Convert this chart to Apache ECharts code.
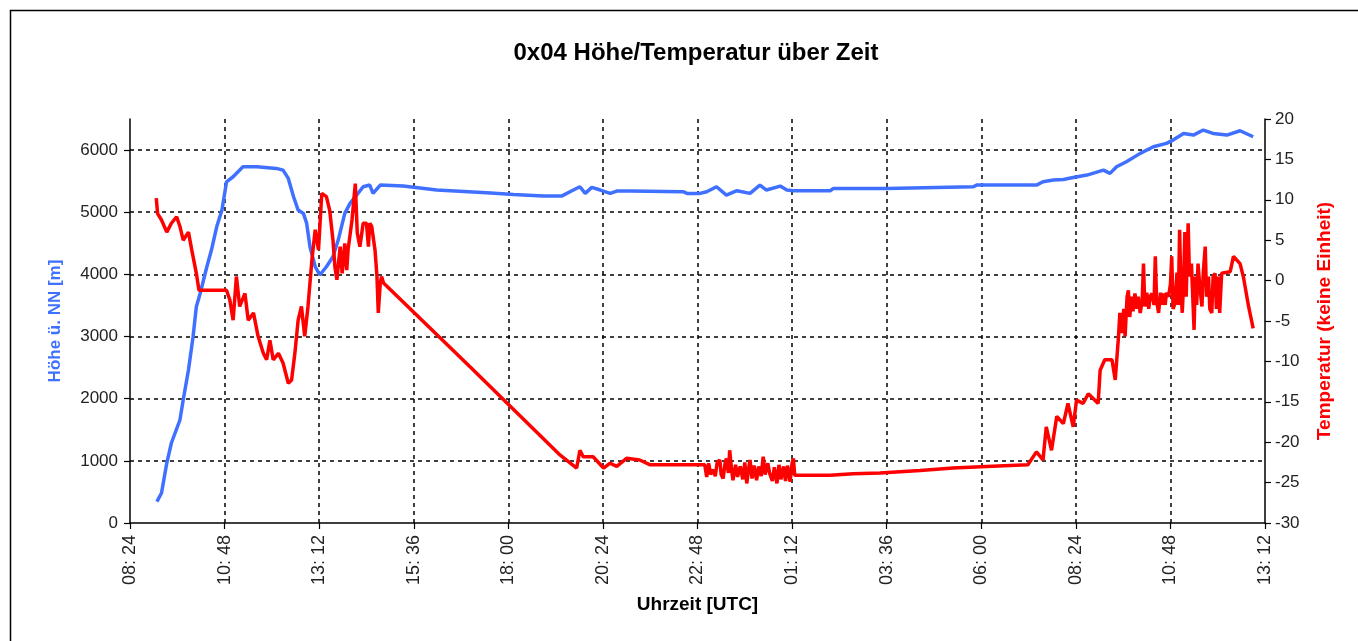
<!DOCTYPE html>
<html>
<head>
<meta charset="utf-8">
<title>0x04 Höhe/Temperatur über Zeit</title>
<script src="https://cdn.jsdelivr.net/npm/echarts@6/dist/echarts.min.js"></script>
<style>
  html, body { margin: 0; padding: 0; background: #fff; }
  #chart { width: 1358px; height: 641px; }
</style>
</head>
<body>
<div id="chart"></div>
<script>
// Achse: Start 08:24 (Tag 1), Ende 13:12 (Tag 2), Teilung alle 2:24 h
const startTime = '08:24'
const tickStep = 144   // Minuten
const tickCount = 12

// Höhe ü. NN [m]
const hoeheZeit = ['09:05','09:12','09:20','09:27','09:40','09:45','09:53','10:00','10:05','10:11','10:21','10:28','10:36','10:44','10:51','11:01','11:16','11:37','12:07','12:17','12:25','12:33','12:40','12:48','12:53','12:58','13:06','13:13','13:23','13:33','13:41','13:51','13:59','14:09','14:19','14:29','14:34','14:45','15:20','16:11','17:27','18:08','18:53','19:21','19:39','19:49','19:57','20:07','20:20','20:35','20:45','21:05','22:26','22:32','22:52','23:02','23:17','23:32','23:48','00:08','00:23','00:33','00:54','01:04','01:14','02:10','02:15','03:36','05:48','05:53','07:24','07:34','07:50','08:05','08:20','08:41','09:06','09:16','09:26','09:41','10:02','10:22','10:42','10:52','11:08','11:23','11:38','11:53','12:14','12:34','12:54']
const hoeheWerte = [343,483,965,1287,1657,1979,2461,2997,3480,3700,4123,4391,4766,5035,5490,5571,5731,5731,5705,5678,5544,5249,5035,4981,4820,4445,4123,3990,4123,4284,4552,4981,5142,5276,5410,5437,5303,5437,5421,5357,5313,5287,5260,5260,5357,5410,5303,5400,5357,5303,5340,5340,5330,5303,5303,5330,5410,5276,5346,5303,5437,5357,5421,5357,5346,5346,5383,5383,5410,5437,5437,5490,5517,5528,5560,5598,5678,5625,5731,5812,5947,6054,6108,6161,6268,6241,6322,6268,6241,6311,6214]

// Temperatur (keine Einheit), abschnittsweise
const tempZeit = [
  '09:04','09:06','09:12','09:20','09:27','09:35','09:40','09:45','09:53','09:58','10:05','10:09','10:51','10:56','11:01','11:06','11:11','11:19','11:24','11:32','11:39','11:47','11:52','11:57','12:02','12:10','12:17','12:25','12:30','12:35','12:40','12:45','12:50','12:55',
  '13:01','13:06','13:11','13:16','13:23','13:28','13:33','13:36','13:39','13:44','13:47','13:51','13:54','13:56','14:02','14:07','14:10','14:14','14:19','14:24','14:27','14:29','14:32','14:37','14:40','14:42','14:45','14:47','14:50',
  '17:02','19:19','19:44','19:49','19:54','20:09','20:25','20:35','20:45','21:00','21:20','21:36','22:59',
  '23:02','23:05','23:08','23:12','23:15','23:18','23:22','23:24','23:27','23:30','23:32','23:35','23:37','23:40','23:42','23:46','23:49','23:53','23:57','00:00','00:03','00:06','00:08','00:11','00:14','00:18','00:21','00:25','00:28','00:31','00:35','00:38','00:42','00:45','00:49','00:52','00:55','00:59','01:02','01:05','01:09','01:12','01:14','01:16',
  '02:10','02:45','03:26','04:27','05:17','06:08','07:11','07:24','07:34','07:39','07:47','07:55','08:05','08:12','08:20','08:25','08:35','08:43','08:58','09:01','09:08','09:19','09:24',
  '09:29','09:31','09:34','09:37','09:39','09:42','09:44','09:46','09:49','09:51','09:54','09:57','09:59','10:02','10:05','10:07','10:09','10:12','10:15','10:17','10:20','10:23','10:25','10:27','10:30','10:33','10:35','10:37','10:40','10:42','10:45','10:48','10:50','10:52','10:55','10:58',
  '11:00','11:02','11:04','11:06','11:08','11:10','11:12','11:15','11:17','11:20','11:22','11:24','11:26','11:28','11:30','11:33','11:36','11:38','11:41','11:43','11:46','11:48','11:51','11:53','11:56','11:58','12:01','12:03','12:06','12:12','12:19','12:24','12:34','12:39','12:47','12:54'
]
const tempWerte = [
  10.2,8.3,7.5,6.0,7.1,7.9,6.7,5.0,6.0,3.8,0.9,-1.2,-1.2,-2.4,-4.9,0.5,-3.2,-1.6,-4.9,-4.0,-6.9,-9.0,-9.8,-7.4,-9.8,-9.0,-10.2,-12.7,-12.3,-9.0,-4.9,-3.2,-6.9,-3.2,
  2.6,6.3,3.8,10.8,10.4,8.7,5.0,1.7,0.1,4.2,0.9,4.6,1.3,3.8,7.5,12.0,5.9,4.2,7.1,7.1,4.2,7.1,6.7,3.8,0.5,-4.0,-0.3,0.5,-0.3,
  -10.7,-21.6,-23.2,-21.0,-21.8,-21.8,-23.2,-22.6,-23.0,-22.0,-22.2,-22.8,-22.8,
  -24.3,-22.6,-24.0,-23.4,-24.2,-22.5,-22.2,-24.0,-24.5,-22.6,-22.0,-23.8,-21.0,-23.5,-24.7,-22.8,-24.3,-23.0,-24.6,-22.5,-25.1,-23.2,-22.2,-24.5,-22.9,-24.7,-23.0,-24.2,-21.8,-24.0,-22.6,-23.9,-24.8,-23.1,-25.1,-22.8,-24.6,-23.0,-24.8,-22.9,-24.9,-22.6,-22.0,-24.1,
  -24.1,-23.9,-23.8,-23.5,-23.2,-23.0,-22.8,-21.2,-22.2,-18.1,-21.0,-16.8,-17.7,-15.2,-18.1,-14.8,-15.2,-14.0,-15.2,-11.1,-9.8,-9.8,-12.3,
  -6.9,-4.0,-6.5,-3.5,-6.9,-2.0,-1.2,-4.5,-2.0,-3.8,-1.6,-3.5,-2.0,-4.0,-2.5,2.1,-3.2,-1.5,-3.5,-2.0,-1.6,-3.0,3.0,-2.5,-4.0,-1.5,-3.0,-1.6,-3.0,-1.5,-2.0,-0.5,3.0,-3.5,-2.8,1.0,
  -3.0,6.3,-1.0,-4.0,-0.5,6.0,-2.0,7.1,0.5,2.1,-2.0,-6.1,0.5,-3.0,2.1,-1.0,-3.2,1.0,4.2,-2.0,0.5,-3.5,-4.0,0.5,0.9,-3.5,0.5,-4.0,0.9,1.0,1.1,3.0,2.1,0.5,-3.2,-5.9
]

const blau = '#4070ff'
const rot = '#ff0000'
const schrift = 'Liberation Sans, Arial, sans-serif'

// 'HH:MM' -> Minuten seit Start, Tageswechsel beachten
function zuMinuten(s) {
  let p = s.split(':')
  return parseInt(p[0]) * 60 + parseInt(p[1])
}
const startMin = zuMinuten(startTime)
function zuPunkten(zeiten, werte) {
  let tag = 0, letzte = -1, out = []
  for (let i = 0; i < zeiten.length; i++) {
    let m = zuMinuten(zeiten[i])
    if (m < letzte) tag++
    letzte = m
    out.push([m + tag * 1440 - startMin, werte[i]])
  }
  return out
}
function uhrzeit(v) {
  let m = (Math.round(v) + startMin) % 1440
  let h = Math.floor(m / 60), mm = m % 60
  return (h < 10 ? '0' : '') + h + ': ' + (mm < 10 ? '0' : '') + mm
}

const gitter = { show: true, lineStyle: { color: '#000', width: 1.5, type: [4, 4] }, showMinLine: false, showMaxLine: false }
const achse = { show: true, lineStyle: { color: '#000', width: 1.5 } }
const tick = { show: true, length: 6, lineStyle: { color: '#000', width: 1.2 } }

let chart = echarts.init(document.getElementById('chart'))
chart.setOption({
  backgroundColor: '#fff',
  animation: false,
  title: {
    text: '0x04 Höhe/Temperatur über Zeit',
    left: 691,
    top: 36,
    textAlign: 'center',
    textStyle: { fontFamily: schrift, fontSize: 24, fontWeight: 'bold', color: '#000' }
  },
  graphic: [{
    type: 'rect',
    shape: { x: 10.5, y: 10.5, width: 1400, height: 700 },
    style: { fill: 'none', stroke: '#000', lineWidth: 1.5 },
    silent: true
  }],
  grid: { left: 130, right: 93, top: 119, bottom: 118 },
  xAxis: {
    type: 'value',
    min: 0,
    max: tickStep * tickCount,
    interval: tickStep,
    name: 'Uhrzeit [UTC]',
    nameLocation: 'middle',
    nameGap: 72,
    nameTextStyle: { fontFamily: schrift, fontSize: 19, fontWeight: 'bold', color: '#000' },
    axisLine: achse,
    axisTick: tick,
    splitLine: gitter,
    axisLabel: {
      rotate: 90,
      margin: 12,
      fontFamily: schrift,
      fontSize: 18,
      color: '#222',
      formatter: uhrzeit
    }
  },
  yAxis: [{
    type: 'value',
    min: 0,
    max: 6500,
    interval: 1000,
    name: 'Höhe ü. NN [m]',
    nameLocation: 'middle',
    nameRotate: 90,
    nameGap: 66,
    nameTextStyle: { fontFamily: schrift, fontSize: 17, fontWeight: 'bold', color: blau },
    axisLine: achse,
    axisTick: tick,
    splitLine: gitter,
    axisLabel: { showMaxLabel: false, margin: 12, fontFamily: schrift, fontSize: 17, color: '#222', formatter: v => String(v) }
  }, {
    type: 'value',
    min: -30,
    max: 20,
    interval: 5,
    position: 'right',
    name: 'Temperatur (keine Einheit)',
    nameLocation: 'middle',
    nameRotate: 90,
    nameGap: 50,
    nameTextStyle: { fontFamily: schrift, fontSize: 19, fontWeight: 'bold', color: rot },
    axisLine: achse,
    axisTick: tick,
    splitLine: { show: false },
    axisLabel: { margin: 10, fontFamily: schrift, fontSize: 17, color: '#222' }
  }],
  series: [{
    name: 'Höhe',
    type: 'line',
    yAxisIndex: 0,
    data: zuPunkten(hoeheZeit, hoeheWerte),
    showSymbol: false,
    lineStyle: { color: blau, width: 3.5 },
    itemStyle: { color: blau }
  }, {
    name: 'Temperatur',
    type: 'line',
    yAxisIndex: 1,
    data: zuPunkten(tempZeit, tempWerte),
    showSymbol: false,
    lineStyle: { color: rot, width: 3.5 },
    itemStyle: { color: rot }
  }]
})
</script>
</body>
</html>
